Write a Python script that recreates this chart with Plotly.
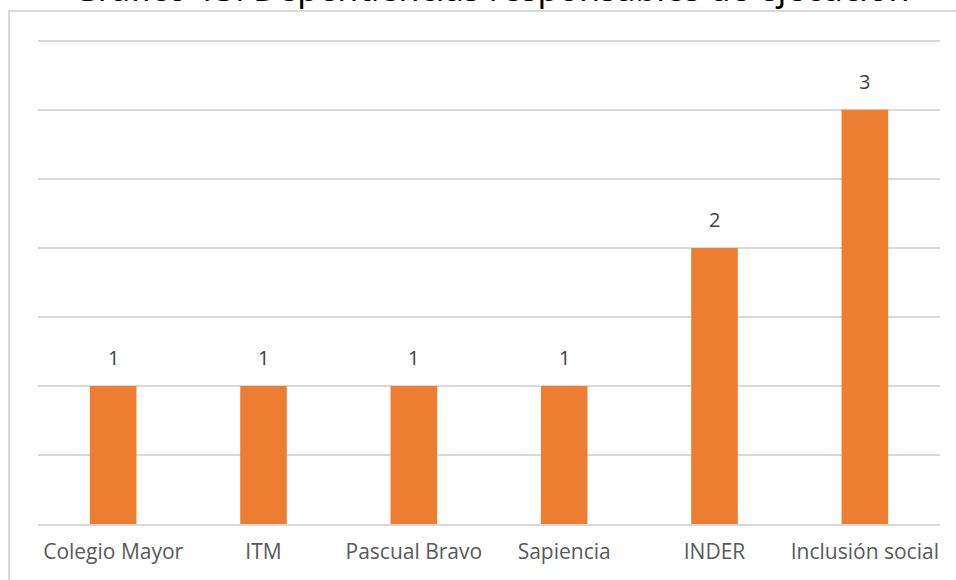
import plotly.graph_objects as go

categories = ["Colegio Mayor", "ITM", "Pascual Bravo", "Sapiencia", "INDER", "Inclusión social"]
values = [1, 1, 1, 1, 2, 3]
title_text = "Gráfico 13. Dependencias responsables de ejecución"

Y_MAX = 3.6
L, R, B = 38, 16, 56
W, H = 956, 580
ph = round(69 / 0.5 * Y_MAX)
T = H - B - ph
pw = W - L - R

def px_x(px):
    return (px - L) / pw

def px_y(py):
    return (H - B - py) / ph

LABEL_FONT = "Liberation Sans Narrow, Open Sans, sans-serif"

fig = go.Figure(go.Bar(
    x=categories, y=values,
    marker=dict(color="#ED7D31", line=dict(width=0)),
    hoverinfo="x+y",
))

annotations = [dict(text=title_text, xref="paper", yref="paper",
                    x=px_x(491), y=px_y(13), xanchor="center", yanchor="bottom",
                    showarrow=False,
                    font=dict(family="Noto Sans", size=34, color="#000000"))]
for c, v in zip(categories, values):
    annotations.append(dict(x=c, y=v, xref="x", yref="y", text=str(v),
                            showarrow=False, yanchor="bottom", yshift=13,
                            font=dict(family=LABEL_FONT, size=20, color="#404040")))

fig.update_layout(
    width=W, height=H,
    margin=dict(l=L, r=R, t=T, b=B),
    paper_bgcolor="white", plot_bgcolor="white",
    bargap=0.69,
    showlegend=False,
    xaxis=dict(showgrid=False, showline=True, linecolor="#D9D9D9", linewidth=2,
               ticks="outside", ticklen=8, tickcolor="rgba(0,0,0,0)",
               tickfont=dict(family=LABEL_FONT, size=21, color="#595959")),
    yaxis=dict(range=[0, Y_MAX], dtick=0.5, showgrid=True, gridcolor="#D9D9D9", gridwidth=2,
               showticklabels=False, zeroline=False, ticks=""),
    shapes=[dict(type="rect", xref="paper", yref="paper",
                 x0=px_x(9), x1=px_x(990), y0=px_y(620), y1=px_y(11),
                 line=dict(color="#D9D9D9", width=2), fillcolor="rgba(0,0,0,0)", layer="below")],
    annotations=annotations,
)

fig.write_html("out.html", config={"displayModeBar": False},
               post_script="document.body.style.margin='0';document.body.style.overflow='hidden';")
